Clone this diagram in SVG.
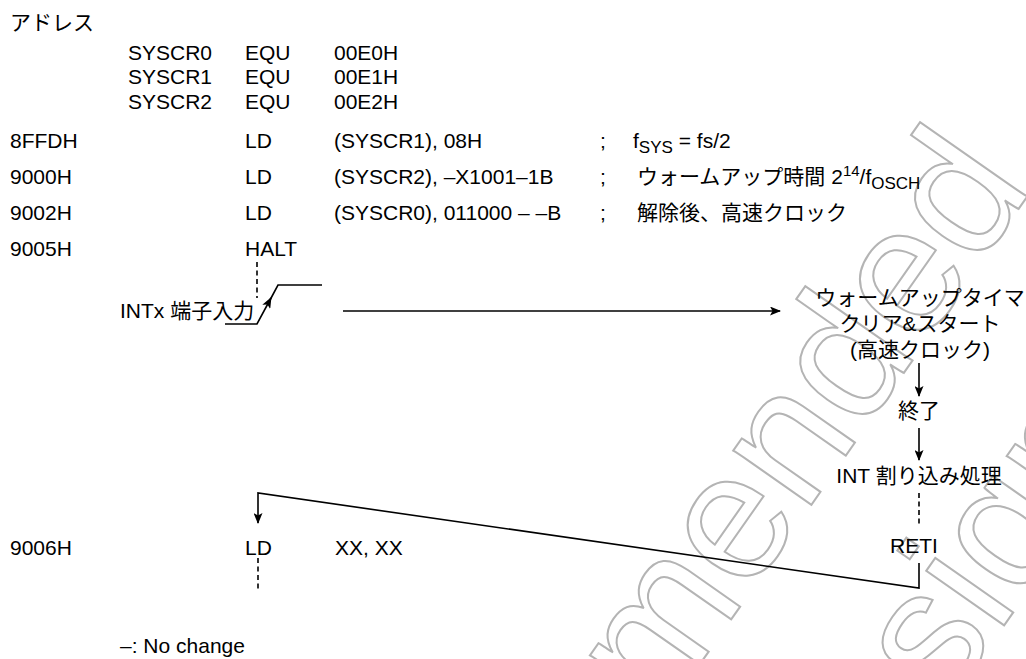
<svg xmlns="http://www.w3.org/2000/svg" width="1026" height="659" viewBox="0 0 1026 659">
<style>
text{font-family:"Liberation Sans","Noto Sans CJK JP",Arial,sans-serif;font-size:21px;fill:#000}
.c{text-anchor:middle}
.ln{fill:none;stroke:#000;stroke-width:1.6}
.ds{fill:none;stroke:#000;stroke-width:1.6;stroke-dasharray:5 3.5}
.wm{font-family:"Liberation Sans",Arial,sans-serif;font-size:180px;fill:none;stroke:#b4b4b4;stroke-width:2}
.sub{font-size:17px}
.sup{font-size:15px}
</style>
<defs>
<marker id="ah" markerWidth="11" markerHeight="9" refX="10" refY="4.5" orient="auto" markerUnits="userSpaceOnUse">
<path d="M0,0 L11,4.5 L0,9 L2.5,4.5 Z" fill="#000"/>
</marker>
</defs>
<rect width="1026" height="659" fill="#fff"/>
<g id="watermark" transform="translate(1034,187) rotate(-55)">
<text class="wm" x="0" y="0" text-anchor="end">mended</text>
<text class="wm" x="-148" y="227" text-anchor="end">sign</text>
</g>
<g id="header"><text x="10" y="30">アドレス</text></g>
<g id="equ">
<text x="128" y="60">SYSCR0</text><text x="245" y="60">EQU</text><text x="334" y="60">00E0H</text>
<text x="128" y="84">SYSCR1</text><text x="245" y="84">EQU</text><text x="334" y="84">00E1H</text>
<text x="128" y="109">SYSCR2</text><text x="245" y="109">EQU</text><text x="334" y="109">00E2H</text>
</g>
<g id="code">
<text x="10" y="148">8FFDH</text><text x="245" y="148">LD</text><text x="334" y="148">(SYSCR1), 08H</text><text x="600" y="148">;</text>
<text x="633" y="148">f<tspan class="sub" dy="5">SYS</tspan><tspan dy="-5"> = fs/2</tspan></text>
<text x="10" y="184">9000H</text><text x="245" y="184">LD</text><text x="334" y="184">(SYSCR2), –X1001–1B</text><text x="600" y="184">;</text>
<text x="637" y="184">ウォームアップ時間 2<tspan class="sup" dy="-8">14</tspan><tspan dy="8">/f</tspan><tspan class="sub" dy="5">OSCH</tspan></text>
<text x="10" y="220">9002H</text><text x="245" y="220">LD</text><text x="334" y="220">(SYSCR0), 011000 – –B</text><text x="600" y="220">;</text>
<text x="637" y="220">解除後、高速クロック</text>
<text x="10" y="256">9005H</text><text x="245" y="256">HALT</text>
</g>
<g id="intx">
<text x="120" y="318">INTx 端子入力</text>
<path class="ln" d="M225,324 H257 L271,298" marker-end="url(#ah)"/>
<path class="ln" d="M270,300 L278,285 H322"/>
</g>
<g id="warmup">
<text class="c" x="920" y="305">ウォームアップタイマ</text>
<text class="c" x="920" y="331">クリア&amp;スタート</text>
<text class="c" x="920" y="357">(高速クロック)</text>
</g>
<g id="end"><text class="c" x="919" y="418">終了</text></g>
<g id="int"><text class="c" x="919" y="483">INT 割り込み処理</text></g>
<g id="reti"><text class="c" x="914" y="553">RETI</text></g>
<g id="ret">
<text x="10" y="555">9006H</text><text x="245" y="555">LD</text><text x="335" y="555">XX, XX</text>
</g>
<g id="note"><text x="120" y="653">–: No change</text></g>
<g id="connectors">
<path class="ds" d="M257,262 V298"/>
<path class="ln" d="M343,311 H780" marker-end="url(#ah)"/>
<path class="ln" d="M919,363 V396" marker-end="url(#ah)"/>
<path class="ln" d="M919,428 V460" marker-end="url(#ah)"/>
<path class="ds" d="M919,493 V526"/>
<path class="ln" d="M919,563 V588 L258,493 V523" marker-end="url(#ah)"/>
<path class="ds" d="M258,558 V592"/>
</g>
</svg>
